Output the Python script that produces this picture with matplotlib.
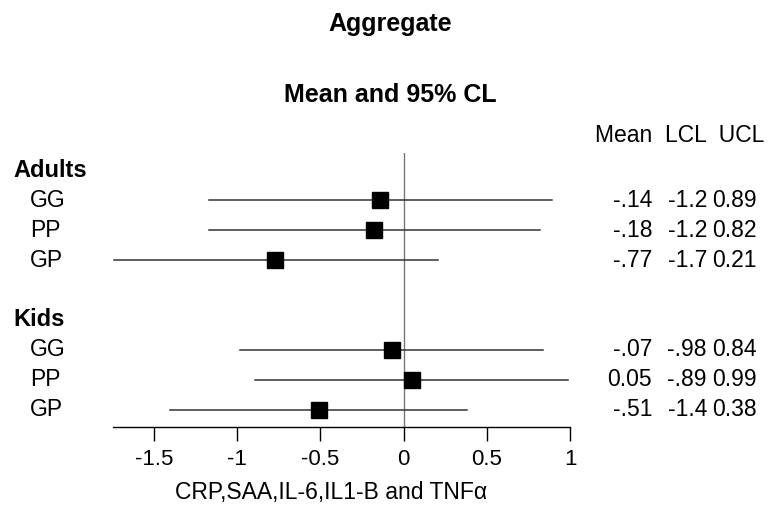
import matplotlib
matplotlib.use("Agg")
from matplotlib import pyplot as plt
import matplotlib.transforms as mtrans

plt.rcParams['font.family'] = ['Liberation Sans', 'DejaVu Sans']

# data
groups = ["Adults", "Kids"]
labels = ["GG", "PP", "GP"]
means = [[-0.14, -0.18, -0.77], [-0.07, 0.05, -0.51]]
lcl = [[-1.17, -1.17, -1.74], [-0.98, -0.89, -1.40]]
ucl = [[0.89, 0.82, 0.21], [0.84, 0.99, 0.38]]
mean_txt = [["-.14", "-.18", "-.77"], ["-.07", "0.05", "-.51"]]
lcl_txt = [["-1.2", "-1.2", "-1.7"], ["-.98", "-.89", "-1.4"]]
ucl_txt = [["0.89", "0.82", "0.21"], ["0.84", "0.99", "0.38"]]
xticks = [-1.5, -1, -0.5, 0, 0.5, 1]
xticklabels = ["-1.5", "-1", "-0.5", "0", "0.5", "1"]

W, H = 769, 507
fig = plt.figure(figsize=(W / 100, H / 100), dpi=100)
ax = fig.add_axes([113 / W, 1 - 427 / H, (570 - 113) / W, (427 - 153) / H])

trans = mtrans.blended_transform_factory(fig.transFigure, ax.transData)

row = 0
for g in range(len(groups)):
    fig.text(13 / W, row, groups[g], transform=trans, fontsize=17,
             fontweight="bold", va="center", ha="left")
    row += 1
    for i in range(len(labels)):
        ax.plot([lcl[g][i], ucl[g][i]], [row, row], color="#333333", lw=1.1, zorder=2)
        ax.plot(means[g][i], row, marker="s", color="black", ms=11.5, zorder=3)
        fig.text(30 / W, row, labels[i], transform=trans, fontsize=16.5,
                 va="center", ha="left")
        fig.text(652 / W, row, mean_txt[g][i], transform=trans, fontsize=16.5,
                 va="center", ha="right")
        fig.text(707 / W, row, lcl_txt[g][i], transform=trans, fontsize=16.5,
                 va="center", ha="right")
        fig.text(757 / W, row, ucl_txt[g][i], transform=trans, fontsize=16.5,
                 va="center", ha="right")
        row += 1
    row += 1

ax.axvline(0, color="#777777", lw=1, zorder=1)

ax.set_xlim(-1.745, 1.0)
ax.set_ylim(8.57, -0.57)
ax.set_yticks([])
for s in ["top", "right", "left"]:
    ax.spines[s].set_visible(False)
ax.spines["bottom"].set_linewidth(1)
ax.set_xticks(xticks)
ax.set_xticklabels(xticklabels, fontsize=16)
ax.tick_params(axis="x", length=10, width=1, pad=6)

fig.text(390 / W, 1 - 24 / H, "Aggregate", fontsize=18, fontweight="bold",
         ha="center", va="center")
fig.text(390 / W, 1 - 95 / H, "Mean and 95% CL", fontsize=18, fontweight="bold",
         ha="center", va="center")
fig.text(595 / W, 1 - 136 / H, "Mean  LCL  UCL", fontsize=16.5, ha="left", va="center")
fig.text(331 / W, 1 - 492 / H, "CRP,SAA,IL-6,IL1-B and TNF\u03b1", fontsize=16.5,
         ha="center", va="center")

fig.savefig("out.png", dpi=100)
